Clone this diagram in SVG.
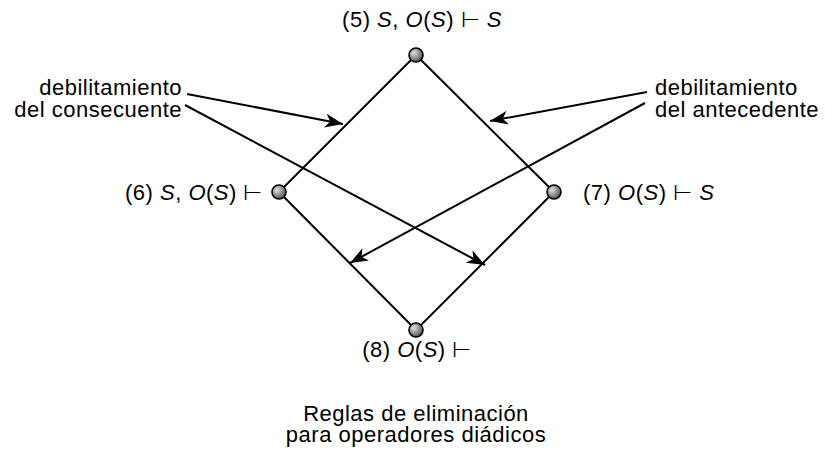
<svg xmlns="http://www.w3.org/2000/svg" width="825" height="458" viewBox="0 0 825 458">
<style>
text{font-family:"Liberation Sans",Arial,sans-serif;font-size:22px;letter-spacing:0.5px;fill:#000}
.i{font-style:italic}
.edge{stroke:#000;stroke-width:2;fill:none}
.arr{stroke:#000;stroke-width:2;fill:none;marker-end:url(#ah)}
.node{stroke:#000;stroke-width:1.6;fill:url(#g)}
</style>
<defs>
<radialGradient id="g" cx="0.35" cy="0.35" r="0.75">
<stop offset="0" stop-color="#e0e0e0"/>
<stop offset="1" stop-color="#444"/>
</radialGradient>
<marker id="ah" markerWidth="20" markerHeight="14" viewBox="0 0 20 14" refX="18" refY="7" orient="auto" markerUnits="userSpaceOnUse">
<path d="M0,0 L18,7 L0,14 L5,7 Z" fill="#000"/>
</marker>
</defs>
<g id="connectors">
<line class="edge" x1="416" y1="55" x2="279" y2="192"/>
<line class="edge" x1="416" y1="55" x2="554" y2="192"/>
<line class="edge" x1="279" y1="192" x2="416" y2="330"/>
<line class="edge" x1="554" y1="192" x2="416" y2="330"/>
<line class="arr" x1="187" y1="94" x2="343" y2="124"/>
<line class="arr" x1="185" y1="105" x2="485" y2="265"/>
<line class="arr" x1="647" y1="92" x2="490" y2="121"/>
<line class="arr" x1="645" y1="103" x2="350" y2="263"/>
</g>
<g id="n5"><circle class="node" cx="416" cy="55" r="7"/>
<text x="422" y="27" text-anchor="middle">(5) <tspan class="i">S</tspan>, <tspan class="i">O</tspan>(<tspan class="i">S</tspan>) ⊢ <tspan class="i">S</tspan></text></g>
<g id="n6"><circle class="node" cx="279" cy="192" r="7"/>
<text x="263" y="200" text-anchor="end">(6) <tspan class="i">S</tspan>, <tspan class="i">O</tspan>(<tspan class="i">S</tspan>) ⊢</text></g>
<g id="n7"><circle class="node" cx="554" cy="192" r="7"/>
<text x="583" y="200">(7) <tspan class="i">O</tspan>(<tspan class="i">S</tspan>) ⊢ <tspan class="i">S</tspan></text></g>
<g id="n8"><circle class="node" cx="416" cy="330" r="7"/>
<text x="417" y="357" text-anchor="middle">(8) <tspan class="i">O</tspan>(<tspan class="i">S</tspan>) ⊢</text></g>
<g id="lbl-consecuente">
<text x="182" y="95" text-anchor="end">debilitamiento</text>
<text x="182" y="117" text-anchor="end">del consecuente</text>
</g>
<g id="lbl-antecedente">
<text x="655" y="95">debilitamiento</text>
<text x="655" y="117">del antecedente</text>
</g>
<g id="caption">
<text x="416" y="421" text-anchor="middle">Reglas de eliminación</text>
<text x="416" y="442" text-anchor="middle">para operadores diádicos</text>
</g>
</svg>
